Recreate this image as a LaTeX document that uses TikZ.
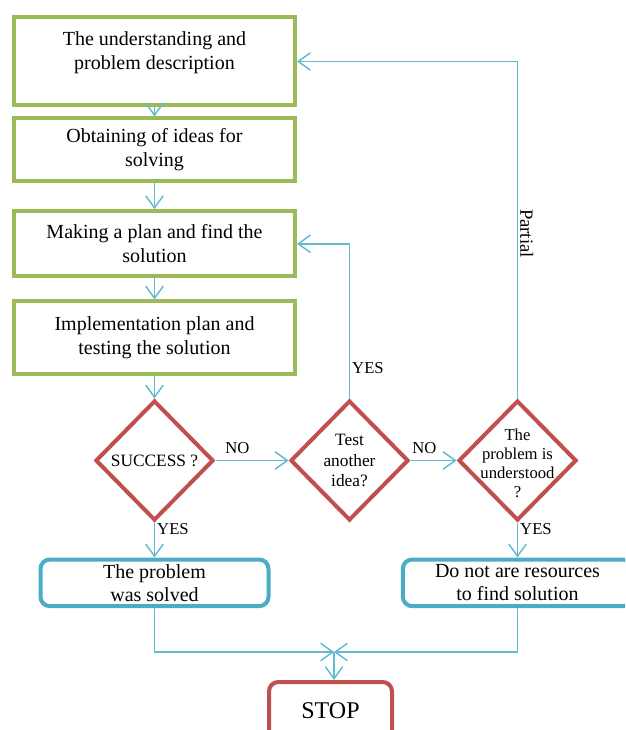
\documentclass[tikz,border=0pt]{standalone}
\usepackage{fontspec}
\setmainfont{Liberation Serif}
\usetikzlibrary{arrows.meta, positioning, shapes.geometric}
\definecolor{StepGreen}{HTML}{9BBB59}
\definecolor{TestRed}{HTML}{C0504D}
\definecolor{EndBlue}{HTML}{4BACC6}
\definecolor{LinkBlue}{HTML}{62BAD3}

\begin{document}
\begin{tikzpicture}[
        x = 0.75pt, y = -0.75pt,
        stepbox/.style = {draw = StepGreen, line width = 3pt, minimum width = 210.75pt, align = center, inner sep = 2pt, font = \fontsize{15}{18}\selectfont},
        dia/.style = {diamond, draw = TestRed, line width = 3pt, minimum width = 88.5pt, minimum height = 90pt, inner sep = 0pt},
        dtxt/.style = {align = center, inner sep = 0pt, font = \fontsize{13}{15.5}\selectfont},
        endbox/.style = {draw = EndBlue, line width = 3pt, rounded corners = 7pt, minimum height = 35pt, align = center, inner sep = 2pt, font = \fontsize{15}{17}\selectfont},
        lab/.style = {font = \fontsize{12.5}{14}\selectfont, inner sep = 1.5pt, text = black},
        arr/.style = {-{Straight Barb[length = 3.2mm, width = 4.6mm]}, line width = 1.1pt, LinkBlue}
    ]
    \useasboundingbox (0, 0) rectangle (625, 730);
    \clip (0, 0) rectangle (625, 730);

    % left column of steps
    \node[stepbox, minimum height = 66pt] (under) at (154.5, 61.5) {
        The understanding and
        \\
        problem description
        \\[-1pt]\mbox{}
    };
    \node[stepbox, minimum height = 47pt, below = 6.75pt of under] (ideas) {
        Obtaining of ideas for
        \\
        solving
    };
    \node[stepbox, minimum height = 49pt, below = 19.5pt of ideas] (plan) {
        Making a plan and find the
        \\
        solution
    };
    \node[stepbox, minimum height = 54pt, below = 15.75pt of plan] (impl) {
        Implementation plan and
        \\
        testing the solution
    };

    % decisions
    \node[dia, below = 17.25pt of impl] (succ) {};
    \node[dtxt] (succtxt) at (succ) {SUCCESS ?};
    \node[dia, right = 54.75pt of succ] (test) {};
    \node[dtxt] (testtxt) at (test) {Test\\another\\idea?};
    \node[dia, right = 34.5pt of test] (und) {};
    \node[dtxt, font = \fontsize{12.5}{14.25}\selectfont, yshift = -2pt] (undtxt) at (und) {The\\problem is\\understood\\?};

    % ends
    \node[endbox, minimum width = 171pt, below = 26.25pt of succ] (solved) {
        The problem
        \\
        was solved
    };
    \node[endbox, minimum width = 172pt, below = 26.25pt of und] (nores) {
        Do not are resources
        \\
        to find solution
    };
    \node[draw = TestRed, line width = 3pt, rounded corners = 7pt, minimum width = 92.25pt, minimum height = 43.5pt, font = \fontsize{18}{20}\selectfont] (stop) at (330.5, 711) {STOP};
    \coordinate (join) at (334, 652);

    \draw[arr] (under) -- (ideas);
    \draw[arr] (ideas) -- (plan);
    \draw[arr] (plan) -- (impl);
    \draw[arr] (impl) -- (succ);
    \draw[arr] (succ.east) -- node[lab, above = 3pt, pos = 0.3] {NO} (test.west);
    \draw[arr] (test.east) -- node[lab, above = 3pt, pos = 0.3] {NO} (und.west);
    \draw[arr] (test.north) |- node[lab, right, pos = 0.1] {YES} (plan.east);
    \draw[arr] (und.north) |- node[lab, rotate = -90, above, pos = 0.245, font = \fontsize{14}{16}\selectfont] {Partial} (under.east);
    \draw[arr] (succ.south) -- node[lab, right, pos = 0.2] {YES} (succ.south |- solved.north);
    \draw[arr] (und.south) -- node[lab, right, pos = 0.2] {YES} (und.south |- nores.north);
    \draw[arr] (solved.south) |- (join);
    \draw[arr] (nores.south) |- (join);
    \draw[arr] (join) -- (join |- stop.north);
\end{tikzpicture}
\end{document}
